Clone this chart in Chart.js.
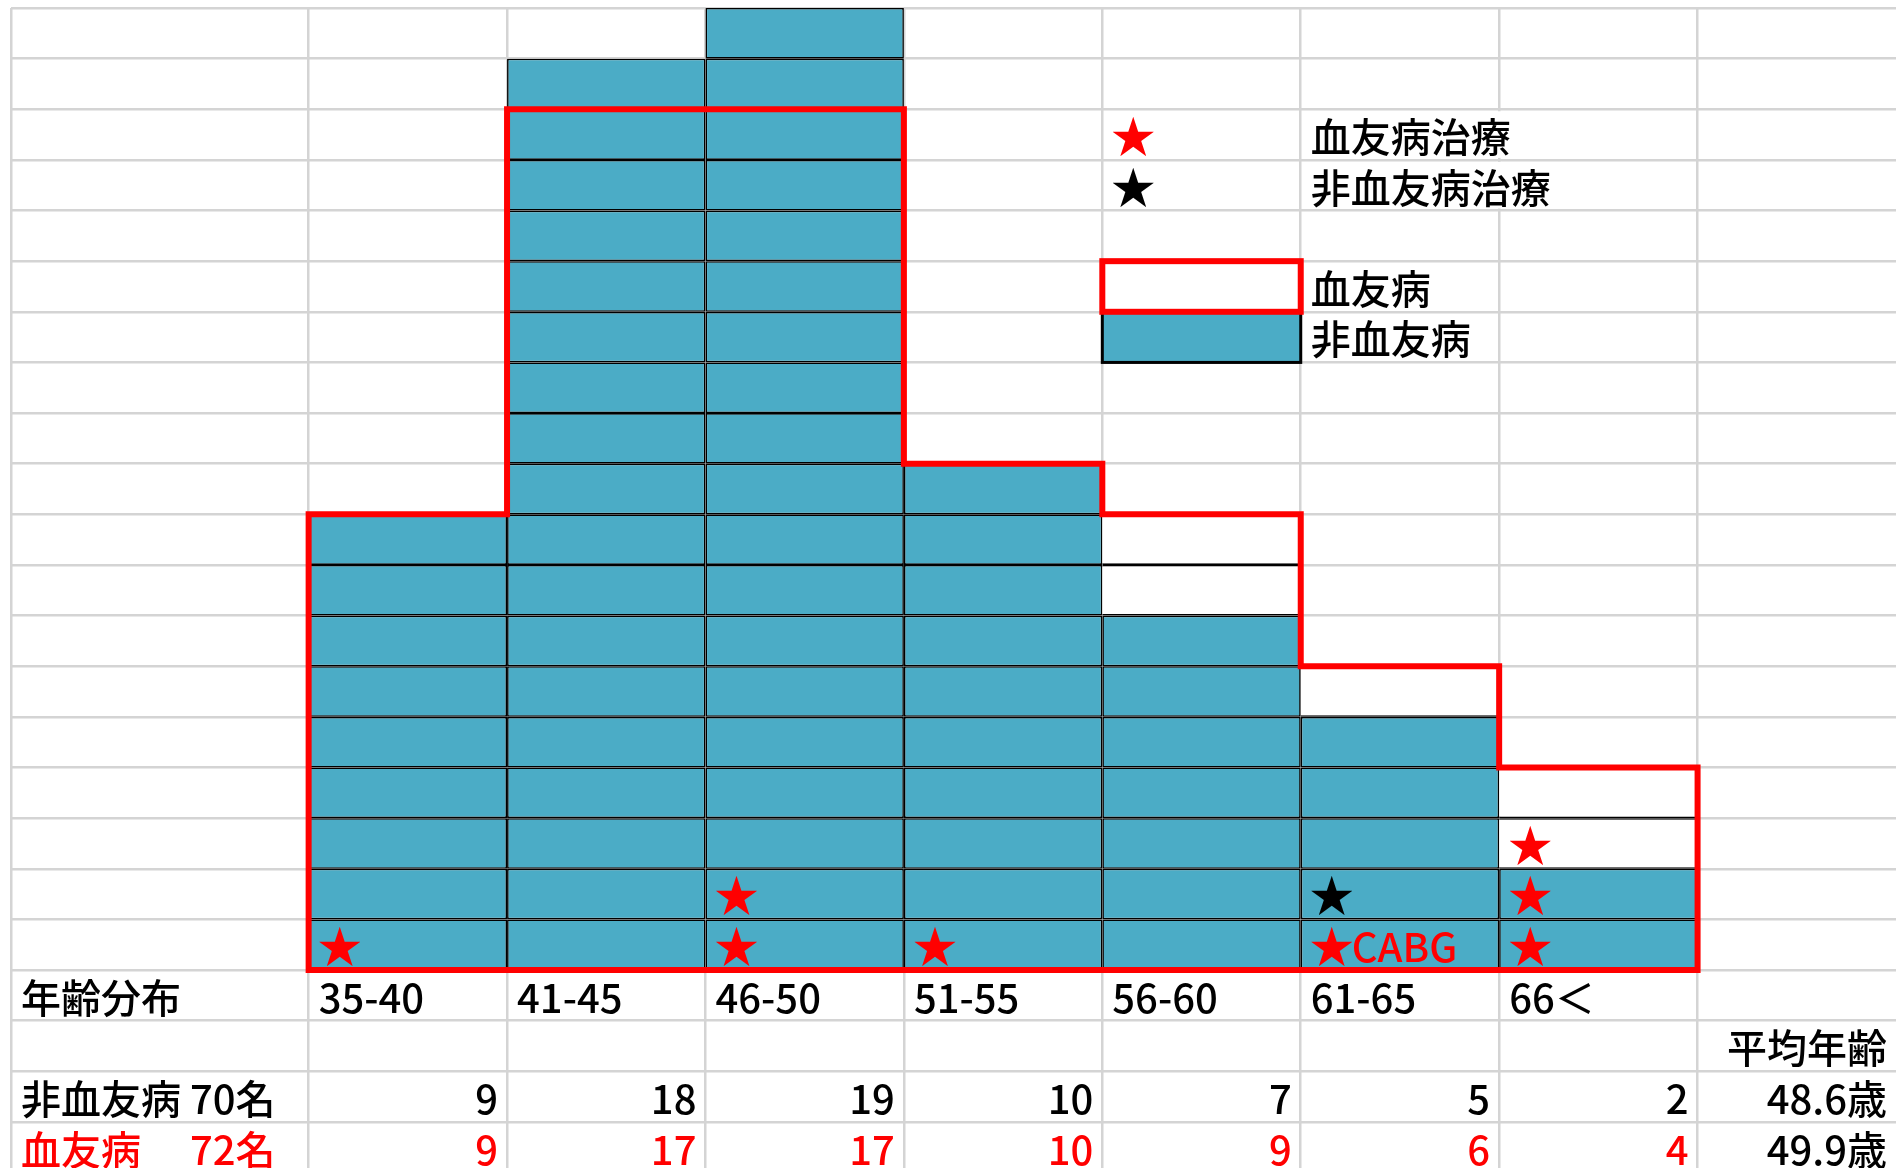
<!DOCTYPE html>
<html lang="ja">
<head>
<meta charset="utf-8">
<title>年齢分布</title>
<script src="https://cdn.jsdelivr.net/npm/chart.js@4/dist/chart.umd.min.js"></script>
<style>
  html, body { margin: 0; padding: 0; background: #ffffff; }
  canvas { display: block; }
</style>
</head>
<body>
<canvas id="sheet" width="1896" height="1168"></canvas>
<script>
// 年齢階級
const ageBins = ['35-40', '41-45', '46-50', '51-55', '56-60', '61-65', '66＜'];
// 各年齢階級の人数
const nonHemoCounts = [9, 18, 19, 10, 7, 5, 2];
const hemoCounts = [9, 17, 17, 10, 9, 6, 4];
// 治療例（★）の人数
const hemoTreated = [1, 0, 2, 1, 0, 1, 3];
const nonHemoTreated = [0, 0, 0, 0, 0, 1, 0];
const treatNotes = ['', '', '', '', '', 'CABG', ''];
// 平均年齢
const meanAges = ['48.6歳', '49.9歳'];
const seriesNames = ['非血友病', '血友病'];
const legendNames = ['血友病治療', '非血友病治療'];

const BLUE = '#4BACC6';
const RED = '#FF0000';
const GRID = '#d4d4d4';
const FONT_FAMILY = '"Noto Sans CJK JP", "Noto Sans CJK SC", sans-serif';
const FONT_WEIGHT = 500;
const FS = 40;
const STAR_FS = 44;

const sum = a => a.reduce((s, v) => s + v, 0);
const maxLevel = Math.max(...nonHemoCounts, ...hemoCounts);

// 1人 = 1マス。各段を浮動棒グラフとして積む
const cellSets = [];
for (let k = 1; k <= maxLevel; k++) {
  const pts = [];
  ageBins.forEach((_, i) => {
    if (k <= Math.max(nonHemoCounts[i], hemoCounts[i])) {
      pts.push({ x: i + 0.5, y: [k - 1, k], bin: i });
    }
  });
  const filled = c => c.raw && nonHemoCounts[c.raw.bin] >= k;
  cellSets.push({
    type: 'bar',
    label: seriesNames[0],
    data: pts,
    order: 1,
    backgroundColor: c => filled(c) ? BLUE : '#ffffff',
    borderColor: '#000000',
    borderWidth: c => filled(c) ? 1.6 : { top: 1.6, bottom: 1.6, left: 0, right: 0 },
    borderSkipped: false,
    inflateAmount: 0,
    barPercentage: 1,
    categoryPercentage: 1
  });
}

// 血友病の外枠（階段状）
const outlinePts = [{ x: 0, y: 0 }];
hemoCounts.forEach((v, i) => { outlinePts.push({ x: i, y: v }, { x: i + 1, y: v }); });
outlinePts.push({ x: hemoCounts.length, y: 0 }, { x: 0, y: 0 });

const outlineSet = {
  type: 'line',
  label: seriesNames[1],
  data: outlinePts,
  order: 0,
  borderColor: RED,
  borderWidth: 6,
  borderJoinStyle: 'miter',
  borderCapStyle: 'square',
  pointRadius: 0,
  fill: false,
  tension: 0,
  clip: false
};

function cellText(ctx, xs, ys, text, c0, c1, level, align, color) {
  const left = xs.getPixelForValue(c0);
  const right = xs.getPixelForValue(c1);
  const base = ys.getPixelForValue(level) - 8;
  ctx.fillStyle = color;
  ctx.textAlign = align;
  ctx.fillText(text, align === 'left' ? left + 10 : right - 9, base);
}

// ★印（後ろに注記が続く場合あり）
function starText(ctx, xs, ys, note, c0, level, color) {
  const left = xs.getPixelForValue(c0) + 9;
  const base = ys.getPixelForValue(level) - 7;
  ctx.save();
  ctx.fillStyle = color;
  ctx.textAlign = 'left';
  ctx.font = `${FONT_WEIGHT} ${STAR_FS}px ${FONT_FAMILY}`;
  ctx.fillText('★', left, base);
  const w = ctx.measureText('★').width;
  ctx.restore();
  if (note) {
    ctx.fillStyle = color;
    ctx.textAlign = 'left';
    ctx.fillText(note, left + w - 2, ys.getPixelForValue(level) - 8);
  }
}

const sheetText = {
  id: 'sheetText',
  beforeDatasetsDraw(chart) {
    // 凡例の文字がはみ出すセルでは縦の罫線を隠す
    const { ctx, scales: { x, y } } = chart;
    const px = x.getPixelForValue(6);
    ctx.save();
    ctx.fillStyle = '#ffffff';
    [16, 15].forEach(lv => {
      const top = y.getPixelForValue(lv + 1) + 2;
      const bot = y.getPixelForValue(lv) - 2;
      ctx.fillRect(px - 3, top, 6, bot - top);
    });
    ctx.restore();
  },
  afterDatasetsDraw(chart) {
    const { ctx, scales: { x, y } } = chart;
    const nBins = ageBins.length;
    ctx.save();
    ctx.font = `${FONT_WEIGHT} ${FS}px ${FONT_FAMILY}`;
    ctx.textBaseline = 'alphabetic';

    // ★ 治療例
    ageBins.forEach((_, i) => {
      for (let j = 0; j < hemoTreated[i]; j++) {
        starText(ctx, x, y, j === 0 ? treatNotes[i] : '', i, j, RED);
      }
      for (let j = 0; j < nonHemoTreated[i]; j++) {
        starText(ctx, x, y, '', i, hemoTreated[i] + j, '#000000');
      }
    });

    // 凡例
    const bx0 = x.getPixelForValue(4), bx1 = x.getPixelForValue(5);
    starText(ctx, x, y, '', 4, 16, RED);
    starText(ctx, x, y, '', 4, 15, '#000000');
    cellText(ctx, x, y, legendNames[0], 5, 6, 16, 'left', '#000000');
    cellText(ctx, x, y, legendNames[1], 5, 6, 15, 'left', '#000000');
    const b12 = y.getPixelForValue(12), b13 = y.getPixelForValue(13), b14 = y.getPixelForValue(14);
    ctx.fillStyle = BLUE;
    ctx.fillRect(bx0, b13, bx1 - bx0, b12 - b13);
    ctx.strokeStyle = '#000000';
    ctx.lineWidth = 3;
    ctx.strokeRect(bx0, b13, bx1 - bx0, b12 - b13);
    ctx.strokeStyle = RED;
    ctx.lineWidth = 6;
    ctx.strokeRect(bx0, b14, bx1 - bx0, b13 - b14);
    cellText(ctx, x, y, seriesNames[1], 5, 6, 13, 'left', '#000000');
    cellText(ctx, x, y, seriesNames[0], 5, 6, 12, 'left', '#000000');

    // 表
    cellText(ctx, x, y, '年齢分布', -1.5, 0, -1, 'left', '#000000');
    ageBins.forEach((lab, i) => cellText(ctx, x, y, lab, i, i + 1, -1, 'left', '#000000'));
    cellText(ctx, x, y, '平均年齢', nBins, nBins + 1, -2, 'right', '#000000');

    const head0 = seriesNames[0] + ' ';
    cellText(ctx, x, y, head0 + sum(nonHemoCounts) + '名', -1.5, 0, -3, 'left', '#000000');
    cellText(ctx, x, y, seriesNames[1], -1.5, 0, -4, 'left', RED);
    ctx.textAlign = 'left';
    ctx.fillStyle = RED;
    ctx.fillText(sum(hemoCounts) + '名', x.getPixelForValue(-1.5) + 10 + ctx.measureText(head0).width,
      y.getPixelForValue(-4) - 8);

    nonHemoCounts.forEach((v, i) => cellText(ctx, x, y, String(v), i, i + 1, -3, 'right', '#000000'));
    hemoCounts.forEach((v, i) => cellText(ctx, x, y, String(v), i, i + 1, -4, 'right', RED));
    cellText(ctx, x, y, meanAges[0], nBins, nBins + 1, -3, 'right', '#000000');
    cellText(ctx, x, y, meanAges[1], nBins, nBins + 1, -4, 'right', '#000000');
    ctx.restore();
  }
};

new Chart(document.getElementById('sheet'), {
  data: { datasets: [outlineSet, ...cellSets] },
  options: {
    responsive: false,
    animation: false,
    devicePixelRatio: 1,
    events: [],
    layout: { padding: { left: 11, top: 8, right: 0, bottom: 0 } },
    plugins: { legend: { display: false }, tooltip: { enabled: false } },
    scales: {
      x: {
        type: 'linear', min: -1.5, max: ageBins.length + 1, stacked: true, offset: false,
        ticks: { display: false }, border: { display: false },
        grid: { color: GRID, lineWidth: 2.5, drawTicks: false, offset: false },
        afterBuildTicks: s => {
          s.ticks = [-1.5, ...ageBins.map((_, i) => i), ageBins.length].map(v => ({ value: v }));
        }
      },
      y: {
        type: 'linear', min: -3.91, max: maxLevel, offset: false,
        ticks: { display: false }, border: { display: false },
        grid: { color: GRID, lineWidth: 2.5, drawTicks: false, offset: false },
        afterBuildTicks: s => {
          const t = [];
          for (let v = -3; v <= maxLevel; v++) t.push({ value: v });
          s.ticks = t;
        }
      }
    }
  },
  plugins: [sheetText]
});
</script>
</body>
</html>
